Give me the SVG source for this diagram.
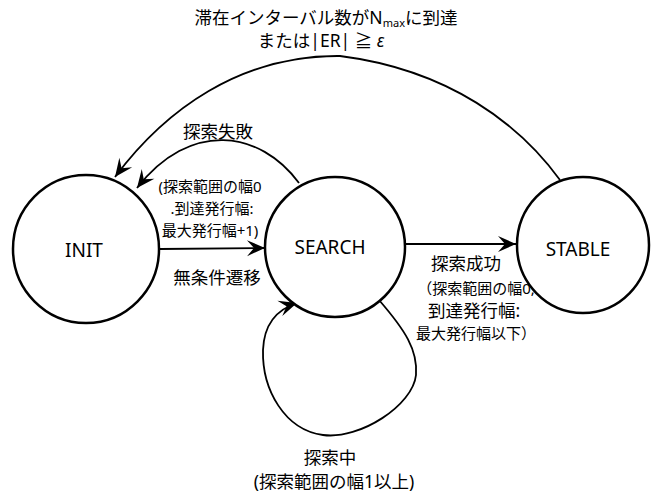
<svg xmlns="http://www.w3.org/2000/svg" width="655" height="496" viewBox="0 0 655 496">
<style>
  .node { fill: #ffffff; stroke: #000000; stroke-width: 2.5; }
  .edge { fill: none; stroke: #000000; stroke-width: 1.8; marker-end: url(#arrow); }
  text { font-family: "Noto Sans", "Noto Sans CJK JP", sans-serif; fill: #000000; }
  .nl { font-size: 19px; text-anchor: middle; }
  .lb { font-size: 17.5px; text-anchor: middle; }
  .sm { font-size: 15px; text-anchor: middle; }
</style>
<defs>
  <marker id="arrow" markerUnits="userSpaceOnUse" viewBox="-19 -9 20 18" refX="0" refY="0" markerWidth="20" markerHeight="18" orient="auto">
    <path d="M0,0 L-18,-8 L-11,0 L-18,8 Z" fill="#000000"/>
  </marker>
</defs>
<g id="connectors">
  <path class="edge" d="M 160 249 L 265 248"/>
  <path class="edge" d="M 405 244 L 516 244"/>
  <path class="edge" d="M 379 300 C 405 330, 418 350, 416 375 C 413 405, 360 440, 323 435 C 285 430, 262 390, 263 350 C 264 325, 275 310, 297 303"/>
  <path class="edge" d="M 299 183 C 260 130, 190 120, 137 188"/>
  <path class="edge" d="M 560 180 C 520 125, 450 70, 340 56 C 240 55, 165 110, 115 177"/>
</g>
<g id="INIT">
  <ellipse class="node" cx="86" cy="249" rx="73" ry="74"/>
  <text class="nl" x="84" y="257">INIT</text>
</g>
<g id="SEARCH">
  <ellipse class="node" cx="335" cy="247" rx="70" ry="70"/>
  <text class="nl" x="330" y="254">SEARCH</text>
</g>
<g id="STABLE">
  <ellipse class="node" cx="583" cy="245" rx="66" ry="68"/>
  <text class="nl" x="578" y="256">STABLE</text>
</g>
<g id="labels">
  <text class="lb" x="326" y="24">滞在インターバル数がN<tspan font-size="11" dy="3">max</tspan><tspan dy="-3">に到達</tspan></text>
  <text class="lb" x="321" y="47">または|ER| ≧ <tspan font-style="italic">ε</tspan></text>
  <text class="lb" x="218" y="138">探索失敗</text>
  <text class="sm" x="210" y="192">(探索範囲の幅0</text>
  <text class="sm" x="212" y="214">.到達発行幅:</text>
  <text class="sm" x="210" y="236">最大発行幅+1)</text>
  <text class="lb" x="217" y="284">無条件遷移</text>
  <text class="lb" x="466" y="270">探索成功</text>
  <text class="sm" x="476" y="294">（探索範囲の幅0,</text>
  <text class="lb" x="474" y="317">到達発行幅:</text>
  <text class="sm" x="476" y="339">最大発行幅以下）</text>
  <text class="lb" x="330" y="464">探索中</text>
  <text class="lb" x="334" y="488">(探索範囲の幅1以上)</text>
</g>
</svg>
